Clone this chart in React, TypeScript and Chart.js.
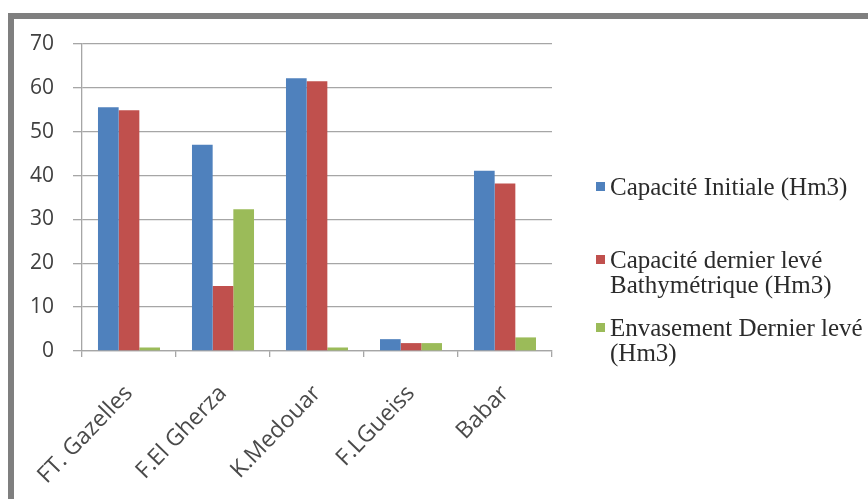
import React, { useEffect, useRef } from "react";
import { Chart, registerables } from "chart.js";

Chart.register(...registerables);

const categories = ["FT. Gazelles", "F.El Gherza", "K.Medouar", "F.LGueiss", "Babar"];
const capaciteInitiale = [55.6, 47.0, 62.2, 2.7, 41.1];
const capaciteDernierLeve = [54.9, 14.8, 61.5, 1.8, 38.2];
const envasement = [0.8, 32.3, 0.8, 1.8, 3.1];
const seriesNames = [
  ["Capacité Initiale (Hm3)"],
  ["Capacité dernier levé", "Bathymétrique (Hm3)"],
  ["Envasement Dernier levé", "(Hm3)"],
];
const colors = ["#4F81BD", "#C0504D", "#9BBB59"];
const yMin = 0;
const yMax = 70;
const yStep = 10;

const W = 868;
const H = 499;

export default function App() {
  const ref = useRef<HTMLCanvasElement | null>(null);

  useEffect(() => {
    if (!ref.current) return;
    const gridColor = "#a6a6a6";
    const chart = new Chart(ref.current, {
      type: "bar",
      data: {
        labels: categories,
        datasets: [capaciteInitiale, capaciteDernierLeve, envasement].map((d, i) => ({
          label: seriesNames[i].join(" "),
          data: d,
          backgroundColor: colors[i],
          borderWidth: 0,
          barPercentage: 1,
          categoryPercentage: 0.66,
        })),
      },
      options: {
        responsive: false,
        animation: false,
        layout: { padding: { left: 0, top: 44, right: 316, bottom: 0 } },
        plugins: { legend: { display: false }, tooltip: { enabled: false } },
        scales: {
          x: {
            grid: {
              display: true,
              drawOnChartArea: false,
              drawTicks: true,
              tickLength: 6,
              color: gridColor,
              lineWidth: 1.3,
              offset: true,
            },
            border: { display: true, color: gridColor, width: 1.3 },
            ticks: {
              minRotation: 46,
              maxRotation: 46,
              autoSkip: false,
              padding: 23,
              color: "#4a4a4a",
              font: { family: "'Open Sans', sans-serif", size: 23 },
            },
            afterFit: (s: any) => {
              s.height = H - 351;
              s.paddingLeft = 0;
              s.paddingRight = 0;
            },
          },
          y: {
            min: yMin,
            max: yMax,
            ticks: {
              stepSize: yStep,
              padding: 19,
              color: "#404040",
              font: { family: "'Open Sans', sans-serif", size: 21 },
            },
            grid: {
              color: gridColor,
              lineWidth: 1.3,
              drawTicks: true,
              tickLength: 9,
            },
            border: { display: true, color: gridColor, width: 1.3 },
            afterFit: (s: any) => {
              s.width = 82;
              s.paddingTop = 0;
              s.paddingBottom = 0;
            },
          },
        },
      },
    });
    return () => chart.destroy();
  }, []);

  const legendItems = [
    { sq: 186, lines: [187] },
    { sq: 259, lines: [260, 285] },
    { sq: 327, lines: [328, 353] },
  ];

  return (
    <div
      style={{
        position: "fixed",
        left: 0,
        top: 0,
        width: W,
        height: H,
        overflow: "hidden",
        background: "#fff",
      }}
    >
      <div
        style={{
          position: "absolute",
          left: 8,
          top: 13,
          width: 1000,
          height: 700,
          border: "6px solid #7f7f7f",
          boxSizing: "border-box",
        }}
      />
      <canvas
        ref={ref}
        width={W}
        height={H}
        style={{ position: "absolute", left: 0, top: 0, width: W, height: H }}
      />
      {legendItems.map((it, i) => (
        <React.Fragment key={i}>
          <div
            style={{
              position: "absolute",
              left: 596,
              top: it.sq - 4.5,
              width: 9,
              height: 9,
              background: colors[i],
            }}
          />
          {seriesNames[i].map((t, j) => (
            <div
              key={j}
              style={{
                position: "absolute",
                left: 610,
                top: it.lines[j] - 13,
                height: 26,
                lineHeight: "26px",
                whiteSpace: "nowrap",
                fontFamily: "'Liberation Serif', serif",
                fontSize: 25,
                color: "#2b2b2b",
              }}
            >
              {t}
            </div>
          ))}
        </React.Fragment>
      ))}
    </div>
  );
}
